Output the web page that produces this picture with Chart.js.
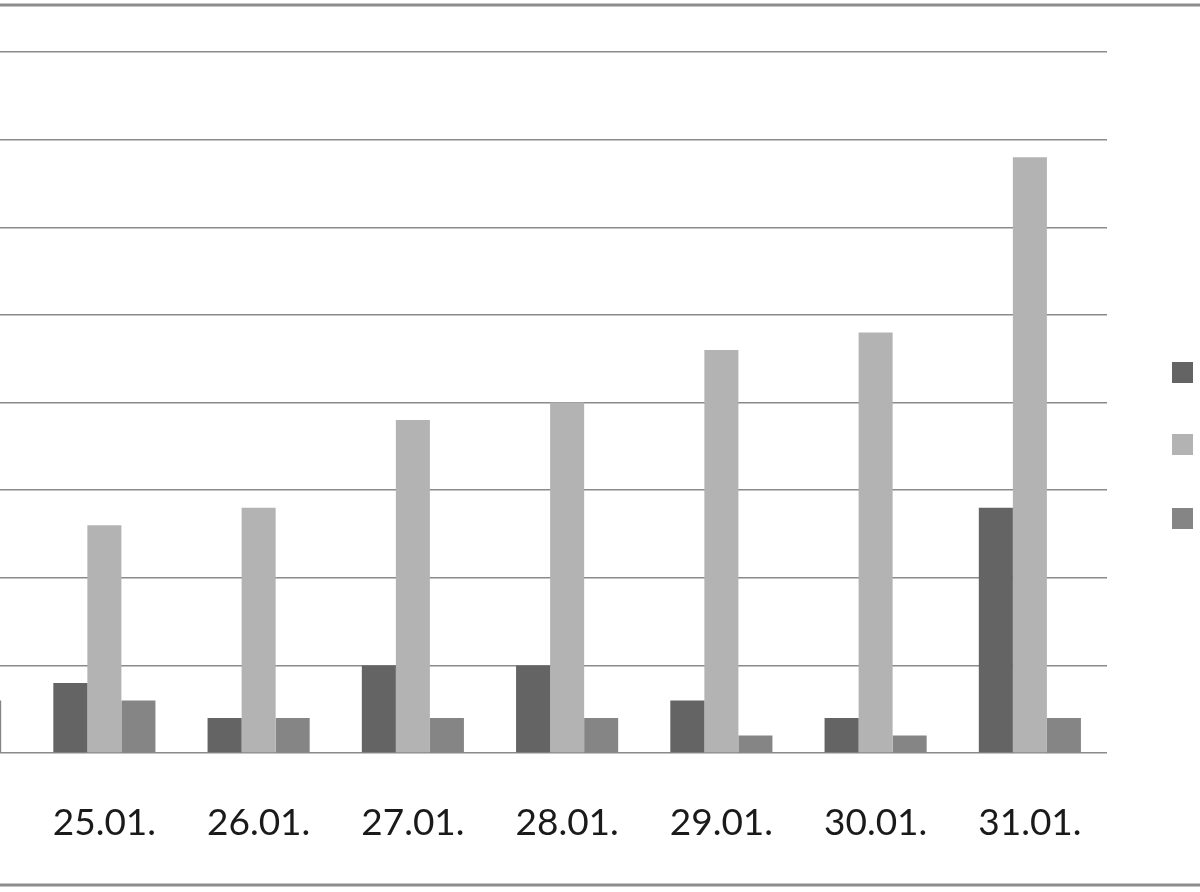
<!DOCTYPE html>
<html>
<head>
<meta charset="utf-8">
<script src="https://cdn.jsdelivr.net/npm/chart.js@4"></script>
<style>
    html, body { margin: 0; padding: 0; background: #fff; overflow: hidden; }
    body { width: 1200px; height: 892px; position: relative; }
    #wrap { position: absolute; left: -200px; top: 0; width: 1500px; height: 892px; }
</style>
</head>
<body>
<div id="wrap"><canvas id="grafikon"></canvas></div>
<script>
// Podaci (očitano sa slike)
const datumi = ['24.01.', '25.01.', '26.01.', '27.01.', '28.01.', '29.01.', '30.01.', '31.01.'];
const niz1 = [4, 8, 4, 10, 10, 6, 4, 28];
const niz2 = [22, 26, 28, 38, 40, 46, 48, 68];
const niz3 = [6, 6, 4, 4, 4, 2, 2, 4];
const nazivi = ['Niz1', 'Niz2', 'Niz3'];
const boje = ['#646464', '#b3b3b3', '#858585'];

// okvir i legenda (legenda je odrezana desno kao na originalu)
const okvirPlugin = {
    id: 'okvir',
    afterDraw(chart) {
        const ctx = chart.ctx;
        ctx.save();
        ctx.strokeStyle = '#8c8c8c';
        ctx.lineWidth = 3;
        ctx.strokeRect(10, 5, 1480, 880);

        const ys = [362, 434, 508];
        chart.data.datasets.forEach((ds, i) => {
            ctx.fillStyle = ds.backgroundColor;
            ctx.fillRect(1372, ys[i], 21, 21);
            ctx.fillStyle = '#222';
            ctx.font = '37px Lato';
            ctx.textBaseline = 'middle';
            ctx.fillText(ds.label, 1410, ys[i] + 11);
        });
        ctx.restore();
    }
};

new Chart(document.getElementById('grafikon'), {
    type: 'bar',
    data: {
        labels: datumi,
        datasets: [
            { label: nazivi[0], data: niz1, backgroundColor: boje[0] },
            { label: nazivi[1], data: niz2, backgroundColor: boje[1] },
            { label: nazivi[2], data: niz3, backgroundColor: boje[2] }
        ]
    },
    options: {
        responsive: true,
        maintainAspectRatio: false,
        animation: false,
        categoryPercentage: 0.662,
        barPercentage: 1,
        layout: { padding: { top: 52, right: 193, left: 0, bottom: 0 } },
        plugins: {
            legend: { display: false },
            tooltip: { enabled: false }
        },
        scales: {
            x: {
                grid: { display: false },
                border: { display: false },
                ticks: {
                    color: '#1a1a1a',
                    font: { family: 'Lato', size: 37 },
                    padding: 40,
                    maxRotation: 0,
                    autoSkip: false
                },
                afterFit(scale) { scale.height = 139; }
            },
            y: {
                min: 0,
                max: 80,
                ticks: {
                    stepSize: 10,
                    color: '#1a1a1a',
                    font: { family: 'Lato', size: 37 }
                },
                grid: { color: '#8a8a8a', lineWidth: 1.5, drawTicks: false },
                border: { display: false },
                afterFit(scale) { scale.width = 73; }
            }
        }
    },
    plugins: [okvirPlugin]
});
</script>
</body>
</html>
